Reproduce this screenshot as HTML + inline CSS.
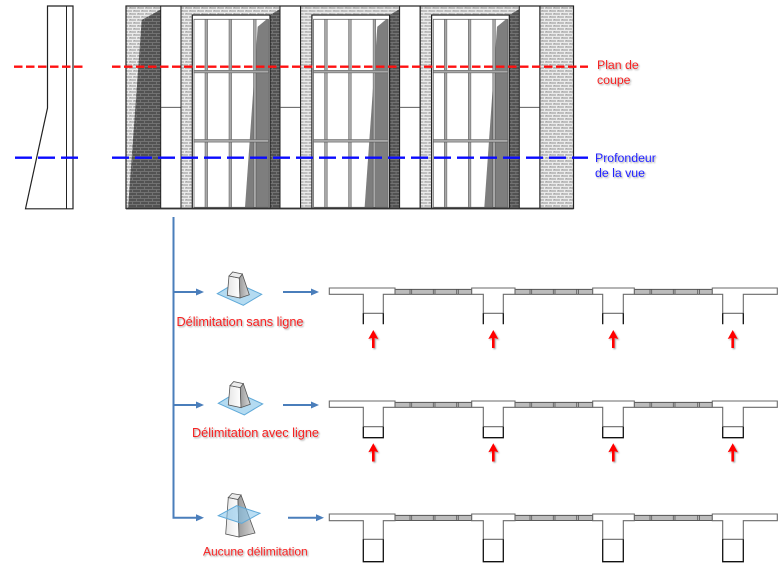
<!DOCTYPE html>
<html><head><meta charset="utf-8">
<style>
html,body{margin:0;padding:0;background:#fff;}
svg{display:block;}
text{font-family:"Liberation Sans",Arial,sans-serif;}
</style></head><body>
<svg width="778" height="563" viewBox="0 0 778 563" xmlns="http://www.w3.org/2000/svg">
<defs>
<pattern id="br" width="8" height="6" patternUnits="userSpaceOnUse">
 <rect width="8" height="6" fill="#c0c0c0"/>
 <rect x="0" y="0" width="8" height="1" fill="#ebebeb"/>
 <rect x="0" y="3" width="8" height="1" fill="#ebebeb"/>
 <rect x="0" y="1" width="1" height="2" fill="#ebebeb"/>
 <rect x="4" y="4" width="1" height="2" fill="#ebebeb"/>
 <rect x="2" y="1" width="1" height="1" fill="#a8a8a8"/>
 <rect x="6" y="4" width="1" height="1" fill="#a8a8a8"/>
</pattern>
<pattern id="bd" width="8" height="6" patternUnits="userSpaceOnUse">
 <rect width="8" height="6" fill="#525252"/>
 <rect x="0" y="0" width="8" height="1" fill="#727272"/>
 <rect x="0" y="3" width="8" height="1" fill="#727272"/>
 <rect x="0" y="1" width="1" height="2" fill="#727272"/>
 <rect x="4" y="4" width="1" height="2" fill="#727272"/>
</pattern>
<filter id="sh" x="-10%" y="-40%" width="130%" height="180%">
 <feDropShadow dx="1.2" dy="1.2" stdDeviation="0.8" flood-color="#000" flood-opacity="0.35"/>
</filter>
<linearGradient id="gR" x1="0" y1="0" x2="1" y2="0">
 <stop offset="0" stop-color="#9a9a9a"/><stop offset="1" stop-color="#d8d8d8"/>
</linearGradient>
<linearGradient id="gL" x1="0" y1="0" x2="1" y2="0">
 <stop offset="0" stop-color="#e6e6e6"/><stop offset="1" stop-color="#ffffff"/>
</linearGradient>
</defs>

<!-- Section wall -->
<polygon points="47.5,6 73,6 73,208.8 25.5,208.8 47.5,108" fill="#fff" stroke="#222" stroke-width="1.2"/>
<line x1="66.5" y1="6" x2="66.5" y2="208.8" stroke="#222" stroke-width="1"/>

<!-- Facade: left pier -->
<rect x="126" y="6" width="34.7" height="202.5" fill="url(#br)"/>
<polygon points="141.7,20 160.7,9.5 160.7,208.5 128,208.5" fill="url(#bd)"/>
<rect x="160.7" y="6" width="20.3" height="202.5" fill="#fff" stroke="#222" stroke-width="1"/>
<line x1="160.7" y1="107.3" x2="181" y2="107.3" stroke="#444" stroke-width="0.8"/>

<!-- Bays -->
<g>
 <rect x="181" y="6" width="99" height="202.5" fill="url(#br)"/>
 <polygon points="270,15 280,9 280,208.5 270,208.5" fill="url(#bd)"/>
 <rect x="192.3" y="15" width="77.7" height="193.5" fill="#fff" stroke="#222" stroke-width="1.2"/>
 <polygon points="257.7,26.7 266.7,19.3 268.5,19.3 268.5,207.5 245,207.5" fill="#7e7e7e"/>
 <rect x="194" y="19.3" width="74.5" height="188" fill="none" stroke="#666" stroke-width="0.8"/>
 <rect x="205" y="19.3" width="2.6" height="188" fill="#a8a8a8" stroke="#555" stroke-width="0.5"/>
 <rect x="229" y="19.3" width="2.6" height="188" fill="#a8a8a8" stroke="#555" stroke-width="0.5"/>
 <rect x="253.5" y="19.3" width="2.6" height="188" fill="#a8a8a8" stroke="#555" stroke-width="0.5"/>
 <rect x="194" y="70.3" width="74.5" height="2.6" fill="#a8a8a8" stroke="#555" stroke-width="0.5"/>
 <rect x="194" y="139.5" width="74.5" height="2.6" fill="#a8a8a8" stroke="#555" stroke-width="0.5"/>
 <rect x="280" y="6" width="20.5" height="202.5" fill="#fff" stroke="#222" stroke-width="1"/>
 <line x1="280" y1="107.3" x2="300.5" y2="107.3" stroke="#444" stroke-width="0.8"/>
 <line x1="181" y1="6" x2="181" y2="208.5" stroke="#222" stroke-width="1"/>
</g>
<g transform="translate(119.6,0)">
 <rect x="181" y="6" width="99" height="202.5" fill="url(#br)"/>
 <polygon points="270,15 280,9 280,208.5 270,208.5" fill="url(#bd)"/>
 <rect x="192.3" y="15" width="77.7" height="193.5" fill="#fff" stroke="#222" stroke-width="1.2"/>
 <polygon points="257.7,26.7 266.7,19.3 268.5,19.3 268.5,207.5 245,207.5" fill="#7e7e7e"/>
 <rect x="194" y="19.3" width="74.5" height="188" fill="none" stroke="#666" stroke-width="0.8"/>
 <rect x="205" y="19.3" width="2.6" height="188" fill="#a8a8a8" stroke="#555" stroke-width="0.5"/>
 <rect x="229" y="19.3" width="2.6" height="188" fill="#a8a8a8" stroke="#555" stroke-width="0.5"/>
 <rect x="253.5" y="19.3" width="2.6" height="188" fill="#a8a8a8" stroke="#555" stroke-width="0.5"/>
 <rect x="194" y="70.3" width="74.5" height="2.6" fill="#a8a8a8" stroke="#555" stroke-width="0.5"/>
 <rect x="194" y="139.5" width="74.5" height="2.6" fill="#a8a8a8" stroke="#555" stroke-width="0.5"/>
 <rect x="280" y="6" width="20.5" height="202.5" fill="#fff" stroke="#222" stroke-width="1"/>
 <line x1="280" y1="107.3" x2="300.5" y2="107.3" stroke="#444" stroke-width="0.8"/>
 <line x1="181" y1="6" x2="181" y2="208.5" stroke="#222" stroke-width="1"/>
</g>
<g transform="translate(239.3,0)">
 <rect x="181" y="6" width="99" height="202.5" fill="url(#br)"/>
 <polygon points="270,15 280,9 280,208.5 270,208.5" fill="url(#bd)"/>
 <rect x="192.3" y="15" width="77.7" height="193.5" fill="#fff" stroke="#222" stroke-width="1.2"/>
 <polygon points="257.7,26.7 266.7,19.3 268.5,19.3 268.5,207.5 245,207.5" fill="#7e7e7e"/>
 <rect x="194" y="19.3" width="74.5" height="188" fill="none" stroke="#666" stroke-width="0.8"/>
 <rect x="205" y="19.3" width="2.6" height="188" fill="#a8a8a8" stroke="#555" stroke-width="0.5"/>
 <rect x="229" y="19.3" width="2.6" height="188" fill="#a8a8a8" stroke="#555" stroke-width="0.5"/>
 <rect x="253.5" y="19.3" width="2.6" height="188" fill="#a8a8a8" stroke="#555" stroke-width="0.5"/>
 <rect x="194" y="70.3" width="74.5" height="2.6" fill="#a8a8a8" stroke="#555" stroke-width="0.5"/>
 <rect x="194" y="139.5" width="74.5" height="2.6" fill="#a8a8a8" stroke="#555" stroke-width="0.5"/>
 <rect x="280" y="6" width="20.5" height="202.5" fill="#fff" stroke="#222" stroke-width="1"/>
 <line x1="280" y1="107.3" x2="300.5" y2="107.3" stroke="#444" stroke-width="0.8"/>
 <line x1="181" y1="6" x2="181" y2="208.5" stroke="#222" stroke-width="1"/>
</g>

<!-- Right pier -->
<rect x="540" y="6" width="33.5" height="202.5" fill="url(#br)"/>
<line x1="540" y1="6" x2="540" y2="208.5" stroke="#222" stroke-width="1"/>
<rect x="126" y="6" width="447.5" height="202.5" fill="none" stroke="#222" stroke-width="1.2"/>
<line x1="126" y1="208.5" x2="573.5" y2="208.5" stroke="#333" stroke-width="1.8"/>

<!-- Dashed lines -->
<line x1="14" y1="66.7" x2="84" y2="66.7" stroke="#ff1010" stroke-width="2.4" stroke-dasharray="8.5 3.5"/>
<line x1="112" y1="66.7" x2="588" y2="66.7" stroke="#ff1010" stroke-width="2.4" stroke-dasharray="8.5 3.5"/>
<line x1="15" y1="157.7" x2="84" y2="157.7" stroke="#0a0aff" stroke-width="2.4" stroke-dasharray="17 6"/>
<line x1="112" y1="157.7" x2="588" y2="157.7" stroke="#0a0aff" stroke-width="2.4" stroke-dasharray="17 6"/>

<g font-size="12.3" filter="url(#sh)">
 <text x="597" y="69" fill="#f52020">Plan de</text>
 <text x="597" y="84" fill="#f52020">coupe</text>
 <text x="595" y="162" fill="#2222ff">Profondeur</text>
 <text x="595" y="177" fill="#2222ff">de la vue</text>
</g>

<!-- Connectors -->
<g stroke="#4a7ebb" stroke-width="2" fill="none">
 <path d="M173.5 217V517.8H197"/>
 <path d="M173.5 292H197"/>
 <path d="M173.5 405H197"/>
 <path d="M283 292H312"/>
 <path d="M283 405H312"/>
 <path d="M288 517.8H317"/>
</g>
<g fill="#4a7ebb">
 <polygon points="196,288.5 204,292 196,295.5"/>
 <polygon points="196,401.5 204,405 196,408.5"/>
 <polygon points="196,514.3 204,517.8 196,521.3"/>
 <polygon points="311,288.5 319,292 311,295.5"/>
 <polygon points="311,401.5 319,405 311,408.5"/>
 <polygon points="316,514.3 324,517.8 316,521.3"/>
</g>

<!-- Icon 1 -->
<g>
 <polygon points="217.3,293.7 235.7,282.7 261.7,294.3 243.3,305.3" fill="#b4dbf1" stroke="#5fa9d8" stroke-width="1"/>
 <polygon points="229,276 239.3,278 240,298 227.3,295.3" fill="url(#gL)" stroke="#555" stroke-width="0.8"/>
 <polygon points="239.3,278 242.3,274 249.3,294.7 240,298" fill="url(#gR)" stroke="#555" stroke-width="0.8"/>
 <polygon points="229,276 232.7,272 242.3,274 239.3,278" fill="#ececec" stroke="#555" stroke-width="0.8"/>
</g>
<!-- Icon 2 -->
<g transform="translate(1,109.6)">
 <polygon points="217.3,293.7 235.7,282.7 261.7,294.3 243.3,305.3" fill="#b4dbf1" stroke="#5fa9d8" stroke-width="1"/>
 <polygon points="229,276 239.3,278 240,298 227.3,295.3" fill="url(#gL)" stroke="#555" stroke-width="0.8"/>
 <polygon points="239.3,278 242.3,274 249.3,294.7 240,298" fill="url(#gR)" stroke="#555" stroke-width="0.8"/>
 <polygon points="229,276 232.7,272 242.3,274 239.3,278" fill="#ececec" stroke="#555" stroke-width="0.8"/>
</g>
<!-- Icon 3 -->
<g>
 <polygon points="228.3,497.5 238,499.5 239,537 225.7,534" fill="url(#gL)" stroke="#555" stroke-width="0.8"/>
 <polygon points="238,499.5 241,495 255,533 239,537" fill="url(#gR)" stroke="#555" stroke-width="0.8"/>
 <polygon points="228.3,497.5 232,493.5 241,495 238,499.5" fill="#ececec" stroke="#555" stroke-width="0.8"/>
 <polygon points="218.3,515.7 236.6,505.7 260,513.3 241.7,523.3" fill="rgba(130,195,235,0.55)" stroke="#5fa9d8" stroke-width="1"/>
</g>

<!-- Labels -->
<g filter="url(#sh)" fill="#f52020">
 <text x="176.5" y="326" font-size="12.7">Délimitation sans ligne</text>
 <text x="192" y="437" font-size="12.7">Délimitation avec ligne</text>
 <text x="203" y="555.5" font-size="12">Aucune délimitation</text>
</g>

<!-- Row 1 -->
<g>
 <g fill="#bcbcbc" stroke="#3a3a3a" stroke-width="0.8">
  <rect x="395" y="289.3" width="76.7" height="5"/>
  <rect x="515" y="289.3" width="77.7" height="5"/>
  <rect x="634.3" y="289.3" width="78" height="5"/>
 </g>
 <path d="M410 289.3v5M411.7 289.3v5M433.3 289.3v5M435 289.3v5M456.7 289.3v5M458.3 289.3v5M530 289.3v5M531.7 289.3v5M553.3 289.3v5M555 289.3v5M576.7 289.3v5M578.4 289.3v5M650 289.3v5M651.7 289.3v5M673.3 289.3v5M675 289.3v5M697.7 289.3v5M699.4 289.3v5" stroke="#555" stroke-width="0.8"/>
 <g fill="#fff" stroke="#6a6a6a" stroke-width="1.1">
  <polygon points="329.3,288 395,288 395,294.3 383.3,294.3 383.3,313.3 363.3,313.3 363.3,294.3 329.3,294.3"/>
  <polygon points="471.7,288 515,288 515,294.3 503.3,294.3 503.3,313.3 483.3,313.3 483.3,294.3 471.7,294.3"/>
  <polygon points="592.7,288 634.3,288 634.3,294.3 623.3,294.3 623.3,313.3 602.7,313.3 602.7,294.3 592.7,294.3"/>
  <polygon points="712.3,288 777.3,288 777.3,294.3 743.3,294.3 743.3,313.3 722.7,313.3 722.7,294.3 712.3,294.3"/>
 </g>
 <path d="M363.3 313.3V324.3M383.3 313.3V324.3M483.3 313.3V324.3M503.3 313.3V324.3M602.7 313.3V324.3M623.3 313.3V324.3M722.7 313.3V324.3M743.3 313.3V324.3" stroke="#111" stroke-width="1.3" fill="none"/>
</g>
<!-- Row 2 -->
<g>
 <g fill="#bcbcbc" stroke="#3a3a3a" stroke-width="0.8">
  <rect x="395" y="402.3" width="76.7" height="5"/>
  <rect x="515" y="402.3" width="77.7" height="5"/>
  <rect x="634.3" y="402.3" width="78" height="5"/>
 </g>
 <path d="M410 402.3v5M411.7 402.3v5M433.3 402.3v5M435 402.3v5M456.7 402.3v5M458.3 402.3v5M530 402.3v5M531.7 402.3v5M553.3 402.3v5M555 402.3v5M576.7 402.3v5M578.4 402.3v5M650 402.3v5M651.7 402.3v5M673.3 402.3v5M675 402.3v5M697.7 402.3v5M699.4 402.3v5" stroke="#555" stroke-width="0.8"/>
 <g fill="#fff" stroke="#6a6a6a" stroke-width="1.1">
  <polygon points="329.3,401 395,401 395,407.3 383.3,407.3 383.3,426.7 363.3,426.7 363.3,407.3 329.3,407.3"/>
  <polygon points="471.7,401 515,401 515,407.3 503.3,407.3 503.3,426.7 483.3,426.7 483.3,407.3 471.7,407.3"/>
  <polygon points="592.7,401 634.3,401 634.3,407.3 623.3,407.3 623.3,426.7 602.7,426.7 602.7,407.3 592.7,407.3"/>
  <polygon points="712.3,401 777.3,401 777.3,407.3 743.3,407.3 743.3,426.7 722.7,426.7 722.7,407.3 712.3,407.3"/>
 </g>
 <path d="M363.3 426.7V437.7H383.3V426.7M483.3 426.7V437.7H503.3V426.7M602.7 426.7V437.7H623.3V426.7M722.7 426.7V437.7H743.3V426.7" stroke="#111" stroke-width="1.3" fill="none"/>
</g>
<!-- Row 3 -->
<g>
 <g fill="#bcbcbc" stroke="#3a3a3a" stroke-width="0.8">
  <rect x="395" y="515.3" width="76.7" height="5.2"/>
  <rect x="515" y="515.3" width="77.7" height="5.2"/>
  <rect x="634.3" y="515.3" width="78" height="5.2"/>
 </g>
 <path d="M410 515.3v5M411.7 515.3v5M433.3 515.3v5M435 515.3v5M456.7 515.3v5M458.3 515.3v5M530 515.3v5M531.7 515.3v5M553.3 515.3v5M555 515.3v5M576.7 515.3v5M578.4 515.3v5M650 515.3v5M651.7 515.3v5M673.3 515.3v5M675 515.3v5M697.7 515.3v5M699.4 515.3v5" stroke="#555" stroke-width="0.8"/>
 <g fill="#fff" stroke="#6a6a6a" stroke-width="1.1">
  <polygon points="329.3,514 395,514 395,520.7 383.3,520.7 383.3,539.3 363.3,539.3 363.3,520.7 329.3,520.7"/>
  <polygon points="471.7,514 515,514 515,520.7 503.3,520.7 503.3,539.3 483.3,539.3 483.3,520.7 471.7,520.7"/>
  <polygon points="592.7,514 634.3,514 634.3,520.7 623.3,520.7 623.3,539.3 602.7,539.3 602.7,520.7 592.7,520.7"/>
  <polygon points="712.3,514 777.3,514 777.3,520.7 743.3,520.7 743.3,539.3 722.7,539.3 722.7,520.7 712.3,520.7"/>
 </g>
 <path d="M363.3 539.3V561.7H383.3V539.3M483.3 539.3V561.7H503.3V539.3M602.7 539.3V561.7H623.3V539.3M722.7 539.3V561.7H743.3V539.3" stroke="#111" stroke-width="1.3" fill="none"/>
</g>

<!-- Red arrows -->
<g fill="#ff0000" filter="url(#sh)">
 <polygon points="373.3,330 378.3,339 374.6,338 374.6,348 372,348 372,338 368.3,339"/>
 <polygon points="493.3,330 498.3,339 494.6,338 494.6,348 492,348 492,338 488.3,339"/>
 <polygon points="613.3,330 618.3,339 614.6,338 614.6,348 612,348 612,338 608.3,339"/>
 <polygon points="732.7,330 737.7,339 734,338 734,348 731.4,348 731.4,338 727.7,339"/>
 <polygon points="373.3,443.3 378.3,452.3 374.6,451.3 374.6,461.5 372,461.5 372,451.3 368.3,452.3"/>
 <polygon points="493.3,443.3 498.3,452.3 494.6,451.3 494.6,461.5 492,461.5 492,451.3 488.3,452.3"/>
 <polygon points="613.3,443.3 618.3,452.3 614.6,451.3 614.6,461.5 612,461.5 612,451.3 608.3,452.3"/>
 <polygon points="732.7,443.3 737.7,452.3 734,451.3 734,461.5 731.4,461.5 731.4,451.3 727.7,452.3"/>
</g>
</svg>
</body></html>
